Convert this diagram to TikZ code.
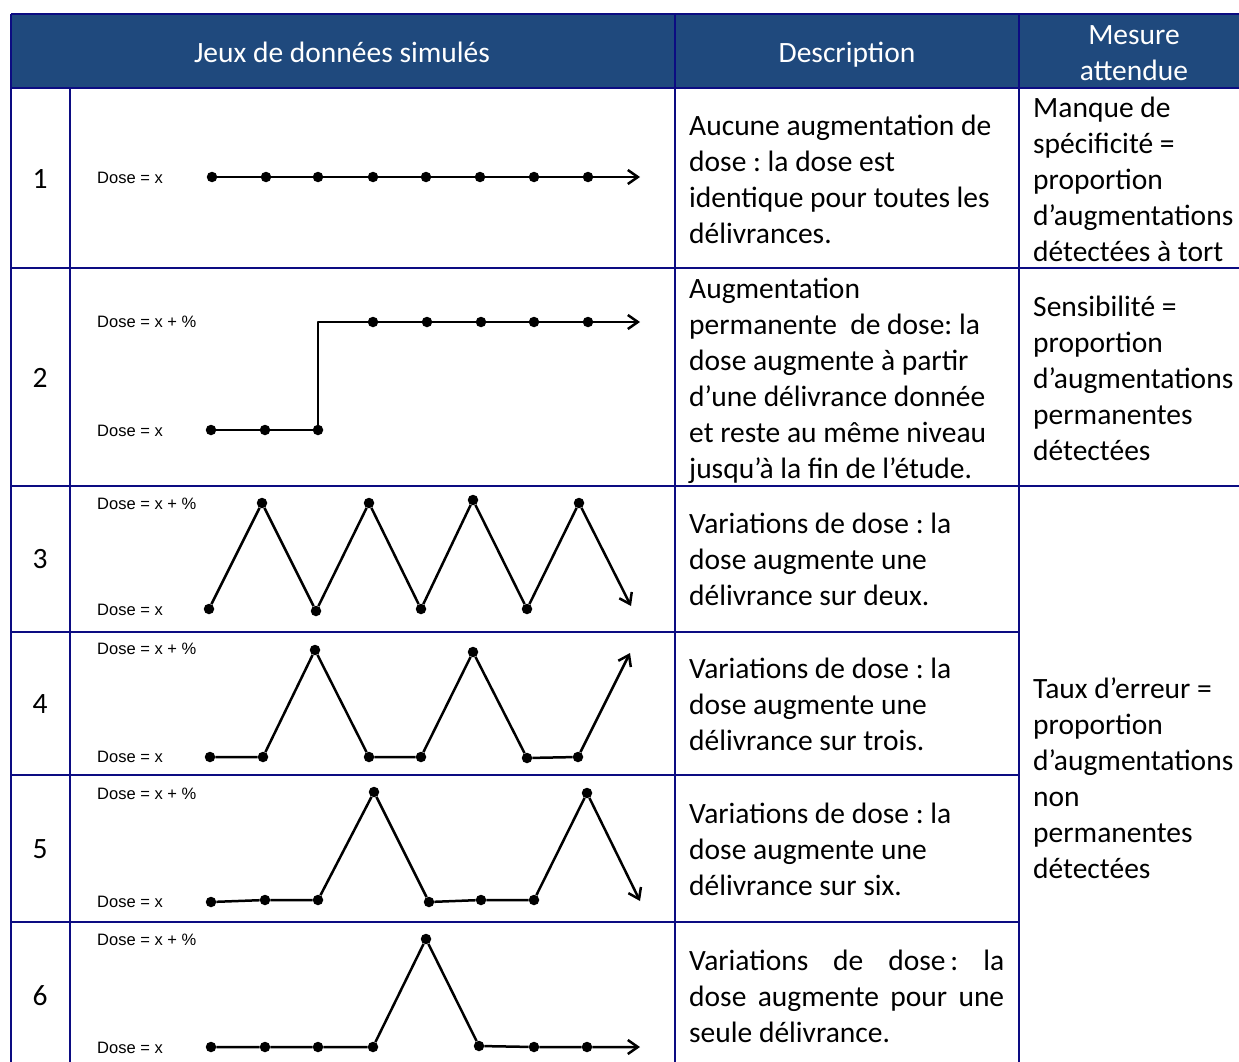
\documentclass[tikz,border=0pt]{standalone}
\usepackage{fontspec}
\setmainfont{Carlito}
\newfontfamily\labelfont{Liberation Sans}
\usetikzlibrary{arrows.meta}
\definecolor{headblue}{RGB}{31,73,125}
\definecolor{gridnavy}{RGB}{12,12,130}
\frenchspacing

\begin{document}
\begin{tikzpicture}[x=1pt, y=-1pt,
  grid/.style={draw=gridnavy, line width=2pt},
  cell/.style={anchor=base west, inner sep=0pt, align=left, font=\fontsize{29.5}{36}\selectfont},
  head/.style={anchor=base, inner sep=0pt, text=white, font=\fontsize{29.5}{36}\selectfont},
  num/.style={anchor=base, inner sep=0pt, font=\fontsize{29.5}{36}\selectfont},
  doselab/.style={anchor=base west, inner sep=0pt, font=\labelfont\fontsize{16.5}{18}\selectfont},
  dot/.style={circle, fill=black, inner sep=0pt, minimum size=10.5pt},
  curve/.style={line width=2.5pt, line join=round},
  tip/.style={-{Straight Barb[length=10pt,width=14pt]}}]
\useasboundingbox (0,0) rectangle (1239,1062);

% Header band
\fill[headblue] (11,14) rectangle (1239,88);
\node[head] (hjeux) at (342,63) {Jeux de données simulés};
\node[head] (hdesc) at (847,63) {Description};
\node[head] (hmes1) at (1134,45) {Mesure};
\node[head] (hmes2) at (1134,81) {attendue};

% Grid lines
\draw[grid] (11,14) -- (1239,14);
\draw[grid] (11,88) -- (1239,88);
\draw[grid] (11,268) -- (1239,268);
\draw[grid] (11,486) -- (1239,486);
\draw[grid] (11,632) -- (1019,632);
\draw[grid] (11,775) -- (1019,775);
\draw[grid] (11,922) -- (1019,922);
\draw[grid] (11,14) -- (11,1062);
\draw[grid] (70,88) -- (70,1062);
\draw[grid] (675,14) -- (675,1062);
\draw[grid] (1019,14) -- (1019,1062);

% Row numbers
\node[num] (n1) at (40,188) {1};
\node[num] (n2) at (40,387) {2};
\node[num] (n3) at (40,568) {3};
\node[num] (n4) at (40,713) {4};
\node[num] (n5) at (40,858) {5};
\node[num] (n6) at (40,1005) {6};

% Dose labels
\node[doselab] (l1x) at (97,183) {Dose = x};
\node[doselab] (l2p) at (97,327) {Dose = x + \%};
\node[doselab] (l2x) at (97,436) {Dose = x};
\node[doselab] (l3p) at (97,509) {Dose = x + \%};
\node[doselab] (l3x) at (97,615) {Dose = x};
\node[doselab] (l4p) at (97,654) {Dose = x + \%};
\node[doselab] (l4x) at (97,762) {Dose = x};
\node[doselab] (l5p) at (97,799) {Dose = x + \%};
\node[doselab] (l5x) at (97,907) {Dose = x};
\node[doselab] (l6p) at (97,945) {Dose = x + \%};
\node[doselab] (l6x) at (97,1053) {Dose = x};

% Row 1: constant dose
\foreach \i/\x in {1/212,2/266,3/318,4/373,5/426,6/480,7/534,8/588}
  \node[dot] (a\i) at (\x,177) {};
\coordinate (aend) at (640,177);
\draw[curve,tip] (a1) -- (a2) -- (a3) -- (a4) -- (a5) -- (a6) -- (a7) -- (a8) -- (aend);

% Row 2: permanent step
\foreach \i/\x/\y in {1/211/430,2/265/430,3/318/430,4/373/322,5/427/322,6/481/322,7/534/322,8/588/322}
  \node[dot] (b\i) at (\x,\y) {};
\coordinate (bstep) at (318,322);
\coordinate (bend) at (640,322);
\draw[curve,tip] (b1) -- (b2) -- (b3) -- (bstep) -- (b4) -- (b5) -- (b6) -- (b7) -- (b8) -- (bend);

% Row 3: one in two
\foreach \i/\x/\y in {1/209/609,2/262/503,3/316/611,4/369/503,5/421/609,6/473/500,7/527/609,8/579/503}
  \node[dot] (c\i) at (\x,\y) {};
\coordinate (cend) at (631,606);
\draw[curve,tip] (c1) -- (c2) -- (c3) -- (c4) -- (c5) -- (c6) -- (c7) -- (c8) -- (cend);

% Row 4: one in three
\foreach \i/\x/\y in {1/210/757,2/263/757,3/315/650,4/369/757,5/421/757,6/473/652,7/527/758,8/578/757}
  \node[dot] (d\i) at (\x,\y) {};
\coordinate (dend) at (630,653);
\draw[curve,tip] (d1) -- (d2) -- (d3) -- (d4) -- (d5) -- (d6) -- (d7) -- (d8) -- (dend);

% Row 5: one in six
\foreach \i/\x/\y in {1/211/902,2/265/900,3/318/900,4/374/792,5/429/902,6/481/900,7/534/900,8/587/793}
  \node[dot] (e\i) at (\x,\y) {};
\coordinate (eend) at (640,901);
\draw[curve,tip] (e1) -- (e2) -- (e3) -- (e4) -- (e5) -- (e6) -- (e7) -- (e8) -- (eend);

% Row 6: single increase
\foreach \i/\x/\y in {1/211/1047,2/265/1047,3/318/1047,4/373/1047,5/426/939,6/479/1046,7/534/1047,8/587/1047}
  \node[dot] (f\i) at (\x,\y) {};
\coordinate (fend) at (640,1047);
\draw[curve,tip] (f1) -- (f2) -- (f3) -- (f4) -- (f5) -- (f6) -- (f7) -- (f8) -- (fend);

% Descriptions (placed at the baseline of their last line)
\node[cell] (desc1) at (689,243) {Aucune augmentation de\\dose : la dose est\\identique pour toutes les\\délivrances.};
\node[cell] (desc2) at (689,478) {Augmentation\\permanente\ \ de dose: la\\dose augmente à partir\\d’une délivrance donnée\\et reste au même niveau\\jusqu’à la fin de l’étude.};
\node[cell] (desc3) at (689,605) {Variations de dose : la\\dose augmente une\\délivrance sur deux.};
\node[cell] (desc4) at (689,750) {Variations de dose : la\\dose augmente une\\délivrance sur trois.};
\node[cell] (desc5) at (689,895) {Variations de dose : la\\dose augmente une\\délivrance sur six.};
\node[cell] (desc6) at (689,1042) {\makebox[315pt][s]{Variations de dose\,: la}\\\makebox[315pt][s]{dose augmente pour une}\\seule délivrance.};

% Expected measures
\node[cell] (mes1) at (1033,261) {Manque de\\spécificité =\\proportion\\d’augmentations\\détectées à tort};
\node[cell] (mes2) at (1033,460) {Sensibilité =\\proportion\\d’augmentations\\permanentes\\détectées};
\node[cell] (mes3) at (1033,878) {Taux d’erreur =\\proportion\\d’augmentations\\non\\permanentes\\détectées};
\end{tikzpicture}
\end{document}
